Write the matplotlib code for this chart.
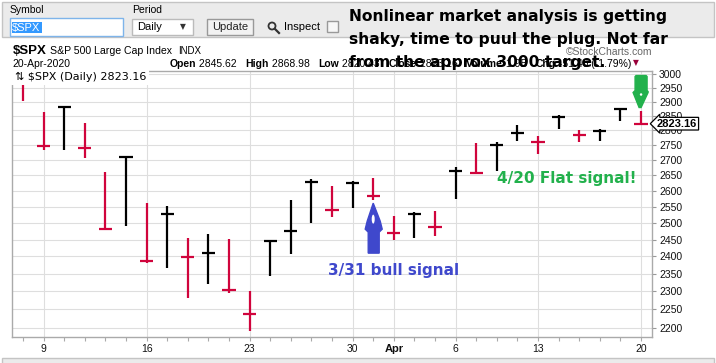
import numpy as np
import matplotlib
matplotlib.use('Agg')
import matplotlib.pyplot as plt
from matplotlib.patches import Rectangle, Polygon, Ellipse, Circle
from matplotlib.lines import Line2D
from matplotlib.ticker import FixedLocator, FixedFormatter, NullLocator
from matplotlib.transforms import IdentityTransform

# --- data: $SPX daily bars, 6-Mar-2020 .. 20-Apr-2020 ---
days = ['Mar 6', 'Mar 9', 'Mar 10', 'Mar 11', 'Mar 12', 'Mar 13',
        'Mar 16', 'Mar 17', 'Mar 18', 'Mar 19', 'Mar 20',
        'Mar 23', 'Mar 24', 'Mar 25', 'Mar 26', 'Mar 27',
        'Mar 30', 'Mar 31', 'Apr 1', 'Apr 2', 'Apr 3',
        'Apr 6', 'Apr 7', 'Apr 8', 'Apr 9',
        'Apr 13', 'Apr 14', 'Apr 15', 'Apr 16', 'Apr 17', 'Apr 20']
highs = [2985.9, 2863.9, 2882.6, 2825.6, 2661.0, 2711.3,
         2563.0, 2553.9, 2453.6, 2467.0, 2453.0,
         2300.7, 2449.7, 2571.4, 2637.0, 2615.9,
         2631.8, 2641.4, 2522.8, 2533.2, 2538.2,
         2676.9, 2756.9, 2760.8, 2818.6,
         2782.5, 2851.9, 2801.9, 2806.5, 2879.2, 2869.0]
lows = [2901.5, 2734.4, 2734.0, 2707.2, 2478.9, 2492.4,
        2380.9, 2367.0, 2280.5, 2319.8, 2295.6,
        2191.9, 2344.4, 2407.5, 2500.7, 2520.0,
        2545.3, 2571.2, 2447.5, 2455.8, 2460.0,
        2574.6, 2657.7, 2663.3, 2762.4,
        2721.2, 2805.1, 2761.5, 2764.3, 2830.9, 2820.4]
closes = [2972.4, 2746.6, 2882.2, 2741.4, 2480.6, 2711.0,
          2386.1, 2529.2, 2398.1, 2409.4, 2304.9,
          2237.4, 2447.3, 2475.6, 2630.1, 2541.5,
          2626.7, 2584.6, 2470.5, 2526.9, 2488.7,
          2663.7, 2659.4, 2750.0, 2789.8,
          2761.6, 2846.1, 2783.4, 2799.6, 2874.6, 2823.16]
prev_close = 3023.9  # close before the first bar
date_labels = {'Mar 9': '9', 'Mar 16': '16', 'Mar 23': '23', 'Mar 30': '30',
               'Apr 1': 'Apr', 'Apr 6': '6', 'Apr 13': '13', 'Apr 20': '20'}
price_ticks = list(range(2200, 3001, 50))
header_parts = [('Open', True), (' 2845.62   ', False), ('High', True), (' 2868.98   ', False),
                ('Low', True), (' 2820.43   ', False), ('Close', True), (' 2823.16   ', False),
                ('Volume', True), (' 1.9B   ', False), ('Chg', True), (' -51.40 (-1.79%)', False)]

UP = '#000000'
DOWN = '#d0043c'
BLUE = '#3f48cc'
GREEN = '#22b14c'

W, H = 716, 363
fig = plt.figure(figsize=(W / 100, H / 100), dpi=100)


def px(x, y):
    # top-left pixel -> figure fraction
    return x / W, 1 - y / H


ax = fig.add_axes([12 / W, 1 - 337 / H, 640 / W, 266 / H])
x = np.arange(len(days))
prevs = [prev_close] + closes[:-1]
colors = [UP if c >= p else DOWN for c, p in zip(closes, prevs)]
ax.vlines(x, lows, highs, colors=colors, lw=1.6, zorder=3)
ax.hlines(closes, x - 0.32, x + 0.32, colors=colors, lw=1.6, zorder=3)

ax.set_yscale('log')
ax.set_ylim(2175, 3011)
ax.set_xlim(-0.53, 30.53)
ax.yaxis.tick_right()
ax.yaxis.set_major_locator(FixedLocator(price_ticks))
ax.yaxis.set_major_formatter(FixedFormatter([str(t) for t in price_ticks]))
ax.yaxis.set_minor_locator(NullLocator())
ax.tick_params(axis='y', length=3, width=0.8, color='#999999', pad=2,
               labelsize=7.5, labelcolor='#111111')

tick_pos = [days.index(d) for d in date_labels]
ax.xaxis.set_major_locator(FixedLocator(tick_pos))
ax.xaxis.set_major_formatter(FixedFormatter(list(date_labels.values())))
ax.xaxis.set_minor_locator(FixedLocator(list(x)))
ax.tick_params(axis='x', which='both', length=3, width=0.8, color='#aaaaaa',
               pad=2, labelsize=7.5, labelcolor='#111111')
for lab in ax.get_xticklabels():
    if lab.get_text() == 'Apr':
        lab.set_fontweight('bold')
        lab.set_fontsize(8)

for t in ax.xaxis.get_ticklabels() + ax.yaxis.get_ticklabels():
    t.set_family('Liberation Sans')

ax.grid(axis='y', color='#dedede', lw=0.8, zorder=0)
ax.grid(axis='x', which='major', color='#dedede', lw=0.8, zorder=0)
for s in ax.spines.values():
    s.set_color('#aaaaaa')
    s.set_linewidth(1)

# legend inside plot
ax.text(0.004, 0.997, '\u21c5 $SPX (Daily) 2823.16', transform=ax.transAxes,
        ha='left', va='top', fontsize=8, family='DejaVu Sans', zorder=5,
        bbox=dict(fc='white', ec='none', pad=2.2))

# last close box on the axis
ax.annotate(f'{closes[-1]:.2f}', xy=(1.0, closes[-1]), xycoords=('axes fraction', 'data'),
            xytext=(5, 0), textcoords='offset pixels', ha='left', va='center',
            fontsize=8, fontweight='bold', family='Liberation Sans', zorder=6,
            bbox=dict(boxstyle='larrow,pad=0.12', fc='white', ec='black', lw=0.9),
            annotation_clip=False)

# --- toolbar ---
fig.add_artist(Rectangle(px(2, 37), 712 / W, 35 / H, transform=fig.transFigure,
                         fc='#ebebeb', ec='#c4c4c4', lw=1))
fig.text(*px(10, 10), 'Symbol', fontsize=7.5, va='center', family='Liberation Sans')
fig.add_artist(Rectangle(px(10, 36), 113 / W, 18 / H, transform=fig.transFigure,
                         fc='white', ec='#7eb4ea', lw=1))
fig.add_artist(Rectangle(px(12, 33), 30 / W, 11 / H, transform=fig.transFigure,
                         fc='#3399ff', ec='none'))
fig.text(*px(12, 27.5), '$SPX', fontsize=8, va='center', color='white',
         family='Liberation Sans')
fig.text(*px(132, 10), 'Period', fontsize=7.5, va='center', family='Liberation Sans')
fig.add_artist(Rectangle(px(132, 35), 61 / W, 16 / H, transform=fig.transFigure,
                         fc='white', ec='#bbbbbb', lw=1))
fig.text(*px(137, 27.5), 'Daily', fontsize=8, va='center', family='Liberation Sans')
fig.text(*px(183, 27), '\u25bc', fontsize=5.5, va='center', ha='center',
         color='#333333', family='DejaVu Sans')
fig.add_artist(Rectangle(px(207, 35), 46 / W, 16 / H, transform=fig.transFigure,
                         fc='#f2f2f2', ec='#999999', lw=1))
fig.text(*px(230, 27.5), 'Update', fontsize=8, va='center', ha='center',
         family='Liberation Sans', color='#222222')
# magnifier icon (drawn as a shape, in pixels)
fig.add_artist(Circle((272, H - 26), 3.5, transform=IdentityTransform(),
                      fc='none', ec='#333333', lw=1.3))
fig.add_artist(Line2D([275, 279], [H - 29, H - 33],
                      transform=IdentityTransform(), color='#333333', lw=1.6))
fig.text(*px(284, 27.5), 'Inspect', fontsize=8, va='center', family='Liberation Sans')
fig.add_artist(Rectangle(px(327, 32), 11 / W, 11 / H, transform=fig.transFigure,
                         fc='#f7f7f7', ec='#999999', lw=1))

# --- header lines ---
fig.text(*px(13, 51), '$SPX', fontsize=9.5, fontweight='bold', va='center',
         family='Liberation Sans')
fig.text(*px(50, 51), 'S&P 500 Large Cap Index', fontsize=7.6, va='center',
         family='Liberation Sans')
fig.text(*px(178, 51), 'INDX', fontsize=7, va='center', family='Liberation Sans')
fig.text(*px(12, 64), '20-Apr-2020', fontsize=7.5, va='center', family='Liberation Sans')

renderer = fig.canvas.get_renderer()
cur = 170
for s, b in header_parts:
    t = fig.text(*px(cur, 64), s, fontsize=7.5, fontweight='bold' if b else 'normal',
                 va='center', family='Liberation Sans')
    cur += t.get_window_extent(renderer).width
fig.text(*px(cur + 5, 63), '\u25bc', fontsize=5.5, va='center', ha='center',
         color='#99003a', family='DejaVu Sans')
fig.text(*px(652, 52), '\u00a9StockCharts.com', fontsize=7.5, va='center', ha='right',
         color='#666666', family='Liberation Sans')

# --- overlaid commentary ---
lines = ['Nonlinear market analysis is getting',
         'shaky, time to puul the plug. Not far',
         'from the approx 3000 target.']
for i, s in enumerate(lines):
    fig.text(*px(349, 16 + i * 23.3), s, fontsize=11.2, fontweight='bold',
             va='center', family='DejaVu Sans', color='black', zorder=10)

# blue up arrow under the 3/31 bar
bx, by = ax.transData.transform((days.index('Mar 31'), lows[days.index('Mar 31')]))
by = by - 3
blue_pts = [(0, 0), (7, -18), (9, -26), (6, -29), (6, -50), (-5, -50), (-5, -29),
            (-8, -26), (-6, -18)]
fig.add_artist(Polygon([(bx + a, by + b) for a, b in blue_pts], closed=True,
                       transform=IdentityTransform(), fc=BLUE, ec=BLUE, zorder=7))
fig.add_artist(Ellipse((bx, by - 16), 3, 9, transform=IdentityTransform(),
                       fc='white', ec='none', zorder=8))
fig.text(*px(394, 270), '3/31 bull signal', fontsize=11, fontweight='bold',
         va='center', ha='center', color=BLUE, family='DejaVu Sans')

# green down arrow above the 4/20 bar
gx, gy = ax.transData.transform((days.index('Apr 20'), highs[days.index('Apr 20')]))
gy = gy + 3
green_pts = [(0, 0), (7, 15), (7, 16), (6, 17), (6, 31), (5, 32), (-5, 32),
             (-6, 31), (-6, 17), (-8, 15), (-2, 0)]
fig.add_artist(Polygon([(gx + a, gy + b) for a, b in green_pts], closed=True,
                       transform=IdentityTransform(), fc=GREEN, ec=GREEN, zorder=7))
fig.add_artist(Ellipse((gx, gy + 13), 2.5, 2.5, transform=IdentityTransform(),
                       fc='white', ec='none', zorder=8))
fig.text(*px(567, 178), '4/20 Flat signal!', fontsize=11, fontweight='bold',
         va='center', ha='center', color=GREEN, family='DejaVu Sans')

# bottom toolbar strip
fig.add_artist(Rectangle(px(2, 364), 712 / W, 6 / H, transform=fig.transFigure,
                         fc='#ebebeb', ec='#c4c4c4', lw=1))

fig.savefig('out.png', dpi=100)
